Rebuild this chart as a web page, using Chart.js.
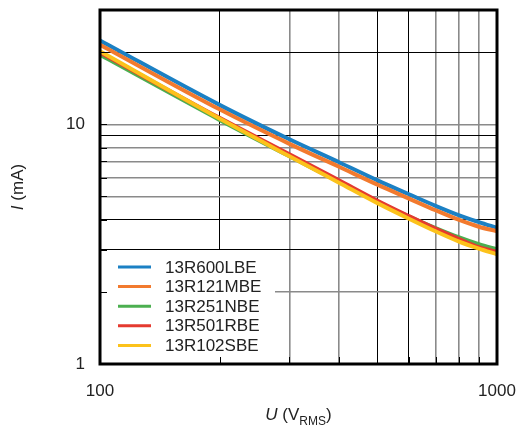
<!DOCTYPE html>
<html>
<head>
<meta charset="utf-8">
<script src="https://cdn.jsdelivr.net/npm/chart.js@4"></script>
<style>
  html, body { margin: 0; padding: 0; background: #fff; }
  #wrap { width: 516px; height: 432px; }
</style>
</head>
<body>
<div id="wrap"><canvas id="chart" width="516" height="432"></canvas></div>
<script>
// Spannung (V RMS) und Strom (mA)
const voltages = [100, 200, 300, 400, 500, 600, 700, 800, 900, 1000];
const seriesNames = ["13R600LBE", "13R121MBE", "13R251NBE", "13R501RBE", "13R102SBE"];
const seriesColors = ["#1b80c4", "#f27a2e", "#4caf50", "#e53a2f", "#fcc21b"];
const current600L = [22.4, 12.06, 8.66, 6.95, 5.84, 5.11, 4.57, 4.18, 3.91, 3.70];
const current121M = [21.5, 11.55, 8.29, 6.65, 5.6, 4.9, 4.38, 4.0, 3.74, 3.58];
const current251N = [19.5, 10.44, 7.36, 5.76, 4.75, 4.12, 3.69, 3.38, 3.16, 3.01];
const current501R = [19.95, 10.64, 7.5, 5.84, 4.8, 4.14, 3.67, 3.33, 3.07, 2.94];
const current102S = [20.2, 10.57, 7.36, 5.71, 4.69, 4.04, 3.58, 3.25, 3.03, 2.87];

const xGrid = [100, 200, 300, 400, 500, 600, 700, 800, 900, 1000];
const yGrid = [1, 2, 3, 4, 5, 6, 7, 8, 9, 10, 20, 30];
const xLabels = [100, 1000];
const yLabels = [1, 10];
const xGreyLines = [300, 400, 700, 800, 900];
const yGreyLines = [2, 5, 6, 7, 8, 10];

const allSeries = [current600L, current121M, current251N, current501R, current102S];
const drawOrder = [4, 1, 3, 2, 0]; // kleiner = weiter oben

const FONT = "'Liberation Sans', Arial, sans-serif";

function gridColor(grey) {
    return ctx => (ctx.tick && grey.includes(ctx.tick.value)) ? '#8a8a8a' : '#000';
}
function gridWidth(grey) {
    return ctx => (ctx.tick && grey.includes(ctx.tick.value)) ? 1.6 : 1;
}

// Legende im Diagramm, Rahmen, Achsentitel
const decorPlugin = {
    id: 'decor',
    afterDatasetsDraw(chart) {
        const c = chart.ctx;
        const a = chart.chartArea;
        const xs = chart.scales.x, ys = chart.scales.y;

        // weißer Legendenkasten
        c.save();
        c.fillStyle = '#fff';
        c.fillRect(a.left, 250, 275 - a.left, a.bottom - 250);

        // kurze Innenstriche
        c.strokeStyle = '#000';
        c.lineWidth = 1;
        xGrid.forEach(v => {
            const px = Math.round(xs.getPixelForValue(v)) + 0.5;
            c.beginPath(); c.moveTo(px, a.bottom); c.lineTo(px, a.bottom - 7); c.stroke();
        });
        yGrid.forEach(v => {
            const py = Math.round(ys.getPixelForValue(v)) + 0.5;
            c.beginPath(); c.moveTo(a.left, py); c.lineTo(a.left + 7, py); c.stroke();
        });

        // Legendeneinträge
        c.font = '17px ' + FONT;
        c.textBaseline = 'middle';
        c.textAlign = 'left';
        seriesNames.forEach((name, i) => {
            const y = 267 + i * 19.6;
            c.strokeStyle = seriesColors[i];
            c.lineWidth = 3;
            c.beginPath(); c.moveTo(118, y); c.lineTo(151, y); c.stroke();
            c.fillStyle = '#222';
            c.fillText(name, 165, y + 1);
        });

        // Rahmen
        c.strokeStyle = '#000';
        c.lineWidth = 3;
        c.strokeRect(a.left, a.top, a.right - a.left, a.bottom - a.top);
        c.restore();
    },
    afterDraw(chart) {
        const c = chart.ctx;
        const a = chart.chartArea;
        c.save();
        c.fillStyle = '#222';
        c.textBaseline = 'alphabetic';

        // x-Titel: U (V_RMS)
        const parts = [
            { t: 'U', f: 'italic 17px ' + FONT, dy: 0 },
            { t: ' (V', f: '17px ' + FONT, dy: 0 },
            { t: 'RMS', f: '12px ' + FONT, dy: 5 },
            { t: ')', f: '17px ' + FONT, dy: 0 }
        ];
        let total = 0;
        parts.forEach(p => { c.font = p.f; p.w = c.measureText(p.t).width; total += p.w; });
        let x = (a.left + a.right) / 2 - total / 2;
        parts.forEach(p => {
            c.font = p.f;
            c.textAlign = 'left';
            c.fillText(p.t, x, 420 + p.dy);
            x += p.w;
        });

        // y-Titel: I (mA)
        c.translate(23, (a.top + a.bottom) / 2);
        c.rotate(-Math.PI / 2);
        const yparts = [
            { t: 'I', f: 'italic 17px ' + FONT },
            { t: ' (mA)', f: '17px ' + FONT }
        ];
        let yt = 0;
        yparts.forEach(p => { c.font = p.f; p.w = c.measureText(p.t).width; yt += p.w; });
        let yx = -yt / 2;
        yparts.forEach(p => {
            c.font = p.f;
            c.fillText(p.t, yx, 0);
            yx += p.w;
        });
        c.restore();
    }
};

const ctx = document.getElementById('chart').getContext('2d');
const chart = new Chart(ctx, {
    type: 'line',
    data: {
        datasets: allSeries.map((vals, i) => ({
            label: seriesNames[i],
            data: voltages.map((v, j) => ({ x: v, y: vals[j] })),
            borderColor: seriesColors[i],
            backgroundColor: seriesColors[i],
            borderWidth: 4,
            pointRadius: 0,
            cubicInterpolationMode: 'monotone',
            fill: false,
            order: drawOrder[i]
        }))
    },
    options: {
        responsive: false,
        animation: false,
        events: [],
        layout: { padding: { top: 10, right: 19, left: 0, bottom: 0 } },
        plugins: {
            legend: { display: false },
            tooltip: { enabled: false }
        },
        scales: {
            x: {
                type: 'logarithmic',
                min: 100,
                max: 1000,
                afterBuildTicks: scale => { scale.ticks = xGrid.map(v => ({ value: v })); },
                afterFit: scale => {
                    scale.height = 68;
                    scale.paddingLeft = 0; scale.paddingRight = 0;
                },
                ticks: {
                    autoSkip: false,
                    maxRotation: 0,
                    padding: 17,
                    color: '#222',
                    font: { family: FONT, size: 17 },
                    callback: v => xLabels.includes(v) ? String(v) : ''
                },
                grid: {
                    drawTicks: false,
                    color: gridColor(xGreyLines),
                    lineWidth: gridWidth(xGreyLines)
                },
                border: { display: false }
            },
            y: {
                type: 'logarithmic',
                min: 1,
                max: 30,
                afterBuildTicks: scale => { scale.ticks = yGrid.map(v => ({ value: v })); },
                afterFit: scale => {
                    scale.width = 100;
                    scale.paddingTop = 0; scale.paddingBottom = 0;
                },
                ticks: {
                    autoSkip: false,
                    padding: 15,
                    color: '#222',
                    font: { family: FONT, size: 17 },
                    callback: v => yLabels.includes(v) ? String(v) : ''
                },
                grid: {
                    drawTicks: false,
                    color: gridColor(yGreyLines),
                    lineWidth: gridWidth(yGreyLines)
                },
                border: { display: false }
            }
        }
    },
    plugins: [decorPlugin]
});
</script>
</body>
</html>
